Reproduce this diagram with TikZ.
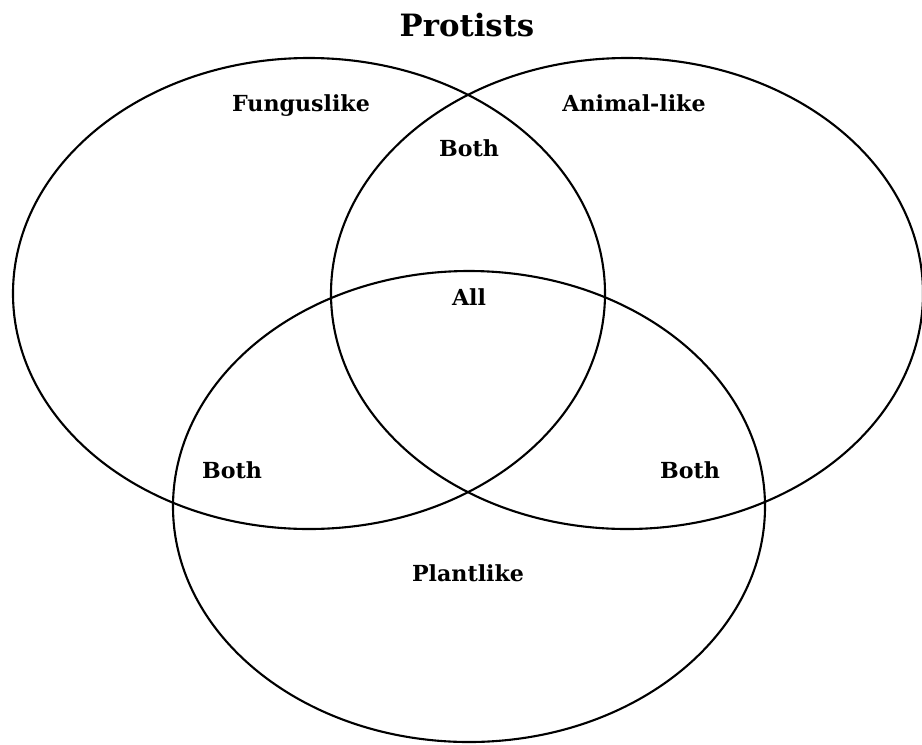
\documentclass[tikz,border=0pt]{standalone}
\usepackage{fontspec}
\setmainfont{DejaVu Serif}
\usepackage{tikz}

\begin{document}
\begin{tikzpicture}[x=0.02cm, y=-0.02cm,
  region/.style={font=\bfseries\fontsize{12.6}{15}\selectfont, anchor=base, inner sep=0pt},
  ring/.style={line width=1.2pt}]
  \useasboundingbox (0,0) rectangle (922,744);

  \node[font=\bfseries\fontsize{17.5}{21}\selectfont, anchor=base, inner sep=0pt] (title) at (467,36) {Protists};

  % the three sets
  \foreach \x \y in {309/293.5, 627/293.5, 469/506.5}{
    \draw[ring] (\x,\y) ellipse [x radius=296, y radius=235.5];
  }

  \foreach \n \x \y \t in {
    fungus/301/111/Funguslike,
    animal/634/111/Animal-like,
    bothtop/469/156/Both,
    all/469/305/All,
    bothleft/232/478/Both,
    bothright/690/478/Both,
    plant/468/581/Plantlike}{
      \node[region] (\n) at (\x,\y) {\t};
    }
\end{tikzpicture}
\end{document}
